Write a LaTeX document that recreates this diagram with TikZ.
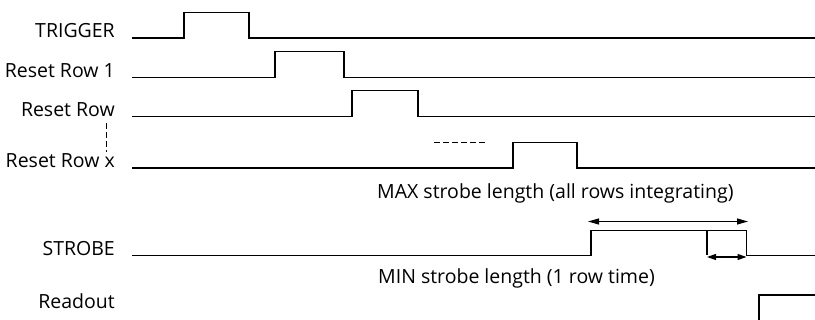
\documentclass[tikz,border=0pt]{standalone}
\usepackage{fontspec}
\setmainfont{Open Sans}
\usetikzlibrary{arrows.meta}
\tikzset{
  wave/.style={line width=1.3pt, line join=miter},
  lbl/.style={anchor=base east, inner sep=0pt, font=\fontsize{19.5}{22}\selectfont},
  note/.style={anchor=base west, inner sep=0pt, font=\fontsize{19.5}{22}\selectfont},
  dimarrow/.style={line width=1.1pt, {Triangle[length=11pt,width=6pt]}-{Triangle[length=11pt,width=6pt]}},
  smallarrow/.style={line width=1.1pt, {Triangle[length=9pt,width=6pt]}-{Triangle[length=9pt,width=6pt]}},
  dashline/.style={line width=1.1pt, dash pattern=on 6pt off 3pt}
}
\begin{document}
\begin{tikzpicture}[x={(1pt,0)}, y={(0,-1pt)}]
\useasboundingbox (0,0) rectangle (815,320);
\clip (0,0) rectangle (815,320);
% labels
\node[lbl] (trig) at (115,38) {TRIGGER};
\node[lbl] (rr1) at (115,77.5) {Reset Row 1};
\node[lbl] (rr) at (115,116.5) {Reset Row};
\node[lbl] (rrx) at (115,168) {Reset Row x};
\node[lbl] (strobe) at (115,255.5) {STROBE};
\node[lbl] (readout) at (115,308.5) {Readout};
\node[note] (maxt) at (377,199) {MAX strobe length (all rows integrating)};
\node[note] (mint) at (378,284) {MIN strobe length (1 row time)};
% waveforms
\draw[wave] (132,38) -- (184,38) -- (184,12.5) -- (249,12.5) -- (249,38) -- (815,38);
\draw[wave] (132,77.5) -- (275,77.5) -- (275,51.5) -- (344,51.5) -- (344,77.5) -- (815,77.5);
\draw[wave] (132,116.5) -- (352,116.5) -- (352,90.5) -- (418,90.5) -- (418,116.5) -- (815,116.5);
\draw[wave] (132,168) -- (513,168) -- (513,142.5) -- (577,142.5) -- (577,168) -- (815,168);
\coordinate (sr) at (591,230.5);
\coordinate (sf) at (746.5,230.5);
\coordinate (sm) at (707,230.5);
\draw[wave] (132,255.5) -- (591,255.5) -- (sr) -- (sf) -- (746.5,255.5) -- (815,255.5);
\draw[wave] (sm) -- (707,255.5);
\draw[wave] (759,325) -- (759,295) -- (820,295);
% dashed continuation marks
\coordinate (dv1) at (106.7,123);
\coordinate (dv2) at (106.7,152);
\draw[dashline] (dv1) -- (dv2);
\coordinate (dh1) at (434,142.5);
\coordinate (dh2) at (488,142.5);
\draw[dashline] (dh1) -- (dh2);
% dimension arrows
\coordinate (a1) at (588,221.5);
\coordinate (a2) at (748,221.5);
\draw[dimarrow] (a1) -- (a2);
\coordinate (b1) at (707,257);
\coordinate (b2) at (746.5,257);
\draw[smallarrow] (b1) -- (b2);
\end{tikzpicture}
\end{document}
